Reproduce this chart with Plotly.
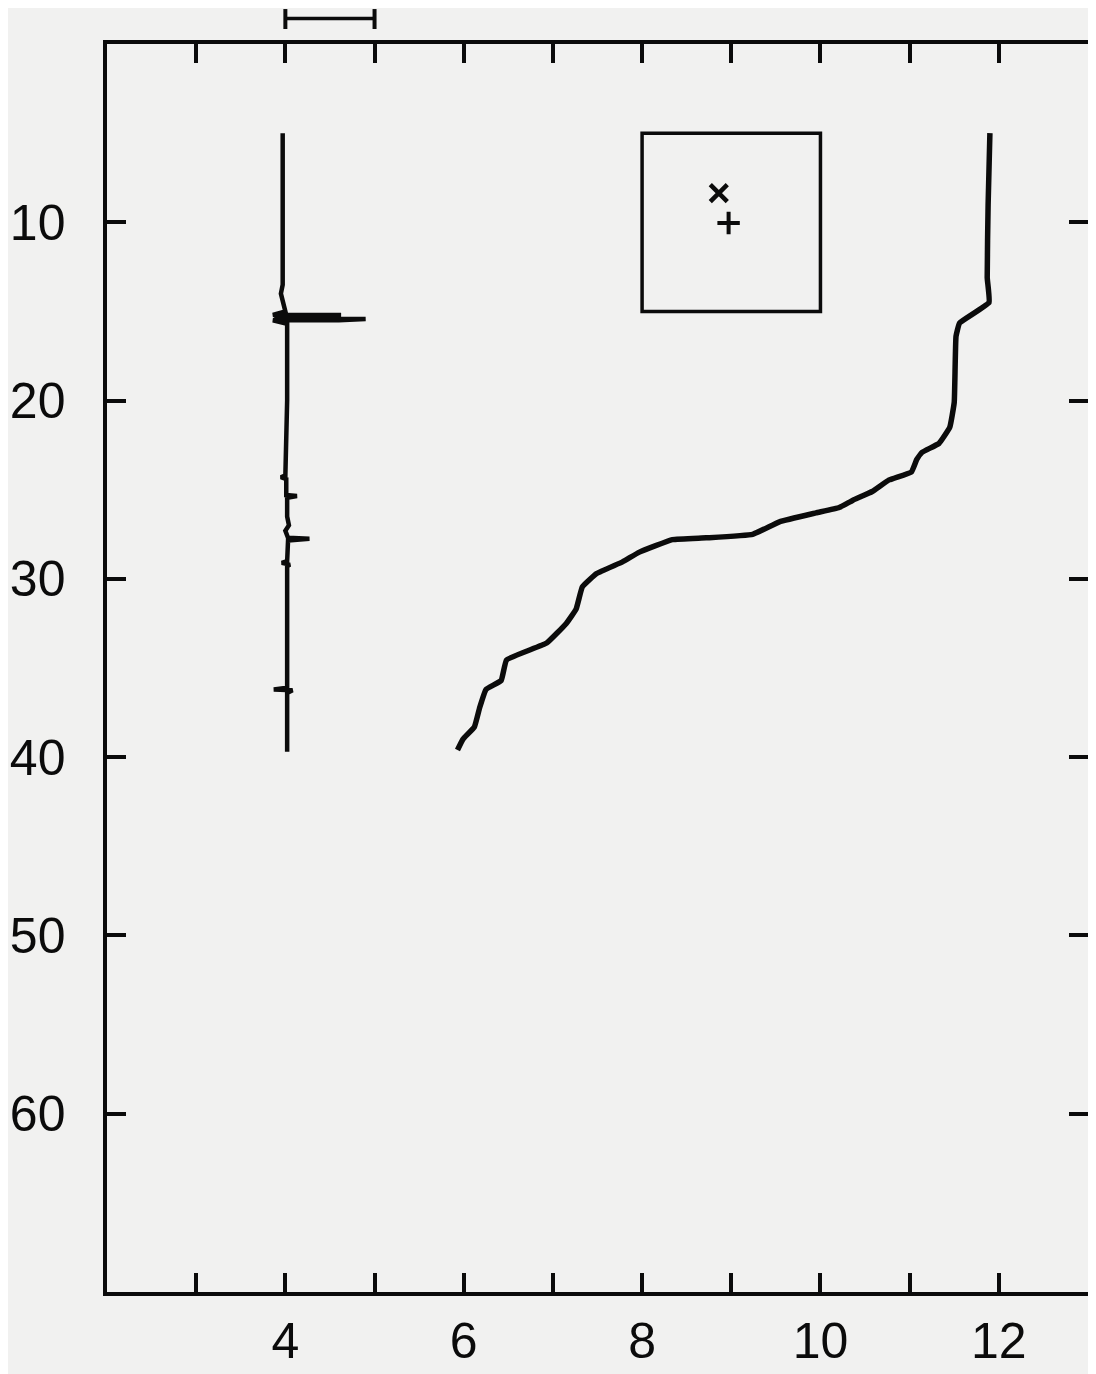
import plotly.graph_objects as go

# ---- data ----
# Profile A (near x = 4, with spikes)
prof_a_x = [3.97, 3.97, 3.97, 3.95, 3.97, 4.00, 3.86, 4.60, 4.60, 3.90, 3.90, 4.90, 4.60, 3.86, 4.02,
            4.02, 4.00, 3.95, 4.01, 4.01, 4.13, 4.02, 4.02, 4.04, 4.00, 4.03, 4.27, 4.03,
            4.02, 3.96, 4.05, 4.02, 4.02, 3.87, 4.08, 4.02, 4.02]
prof_a_y = [5.0, 10.0, 13.5, 14.0, 14.5, 15.0, 15.2, 15.2, 15.3, 15.3, 15.4, 15.42, 15.5, 15.5, 15.7,
            20.0, 24.2, 24.3, 24.4, 25.3, 25.35, 25.45, 26.5, 27.0, 27.3, 27.7, 27.75, 27.85,
            29.0, 29.1, 29.2, 29.3, 36.1, 36.2, 36.25, 36.4, 39.7]

# Profile B (the S-shaped curve)
prof_b_x = [11.90, 11.88, 11.87, 11.89, 11.56, 11.52, 11.50, 11.45, 11.33, 11.14, 11.08, 11.02,
            10.77, 10.58, 10.36, 10.21, 9.95, 9.54, 9.24, 8.72, 8.34, 7.97, 7.78, 7.49, 7.33,
            7.26, 7.15, 6.93, 6.48, 6.42, 6.25, 6.18, 6.12, 5.99, 5.93]
prof_b_y = [5.0, 9.0, 13.1, 14.5, 15.65, 16.4, 20.1, 21.5, 22.4, 22.9, 23.3, 24.0,
            24.45, 25.1, 25.6, 26.0, 26.3, 26.8, 27.5, 27.7, 27.8, 28.5, 29.05, 29.7, 30.45,
            31.7, 32.5, 33.6, 34.55, 35.7, 36.2, 37.2, 38.3, 39.0, 39.6]

# Inset box and its two markers
inset_box_x = [8, 10]
inset_box_y = [5, 15]
marker_x_pos = [8.86]
marker_x_depth = [8.36]
marker_plus_pos = [8.97]
marker_plus_depth = [10.04]

# Scale bar above the frame
scale_bar_x = [4, 5]

# Axes
x_tickvals = [3, 4, 5, 6, 7, 8, 9, 10, 11, 12]
x_ticktext = ["", "4", "", "6", "", "8", "", "10", "", "12"]
y_tickvals = [10, 20, 30, 40, 50, 60]
y_ticktext = ["10", "20", "30", "40", "50", "60"]

INK = "#0b0b0b"
BG = "#f1f1f0"
FONT = dict(family="Liberation Sans, Arial, sans-serif", size=50, color=INK)

fig = go.Figure()

fig.add_trace(go.Scatter(x=prof_a_x, y=prof_a_y, mode="lines",
                         line=dict(color=INK, width=4.5), showlegend=False, hoverinfo="skip"))
fig.add_trace(go.Scatter(x=prof_b_x, y=prof_b_y, mode="lines",
                         line=dict(color=INK, width=5.5, shape="spline", smoothing=0.3),
                         showlegend=False, hoverinfo="skip"))
fig.add_trace(go.Scatter(x=marker_x_pos, y=marker_x_depth, mode="markers",
                         marker=dict(symbol="x-thin", size=17, line=dict(color=INK, width=4.5)),
                         showlegend=False, hoverinfo="skip"))
fig.add_trace(go.Scatter(x=marker_plus_pos, y=marker_plus_depth, mode="markers",
                         marker=dict(symbol="cross-thin", size=16, line=dict(color=INK, width=4)),
                         showlegend=False, hoverinfo="skip"))

# inset rectangle
fig.add_shape(type="rect", xref="x", yref="y",
              x0=inset_box_x[0], x1=inset_box_x[1], y0=inset_box_y[0], y1=inset_box_y[1],
              line=dict(color=INK, width=3.5))

# scale bar with end caps (above the plot frame)
fig.add_shape(type="line", xref="x", yref="paper", x0=scale_bar_x[0], x1=scale_bar_x[1],
              y0=1.0205, y1=1.0205, line=dict(color=INK, width=3.5))
for xv in scale_bar_x:
    fig.add_shape(type="line", xref="x", yref="paper", x0=xv, x1=xv,
                  y0=1.012, y1=1.028, line=dict(color=INK, width=4))

NB = "\u00a0"
fig.update_layout(
    width=1088, height=1366,
    margin=dict(l=99, r=8, t=36, b=82),
    paper_bgcolor=BG, plot_bgcolor=BG,
    font=FONT,
    showlegend=False,
)
fig.update_xaxes(range=[2, 13], tickvals=x_tickvals, ticktext=x_ticktext, automargin=False,
                 ticks="inside", ticklen=19, tickwidth=3.5, tickcolor=INK,
                 showline=True, linewidth=3.5, linecolor=INK, mirror="ticks",
                 showgrid=False, zeroline=False, tickfont=FONT, ticklabelstandoff=2)
fig.update_yaxes(range=[70, 0], tickvals=y_tickvals, ticktext=[t + NB * 2 for t in y_ticktext],
                 automargin=False,
                 ticks="inside", ticklen=19, tickwidth=3.5, tickcolor=INK,
                 showline=True, linewidth=3.5, linecolor=INK, mirror="ticks",
                 showgrid=False, zeroline=False, tickfont=FONT)

fig.write_html("out.html")
